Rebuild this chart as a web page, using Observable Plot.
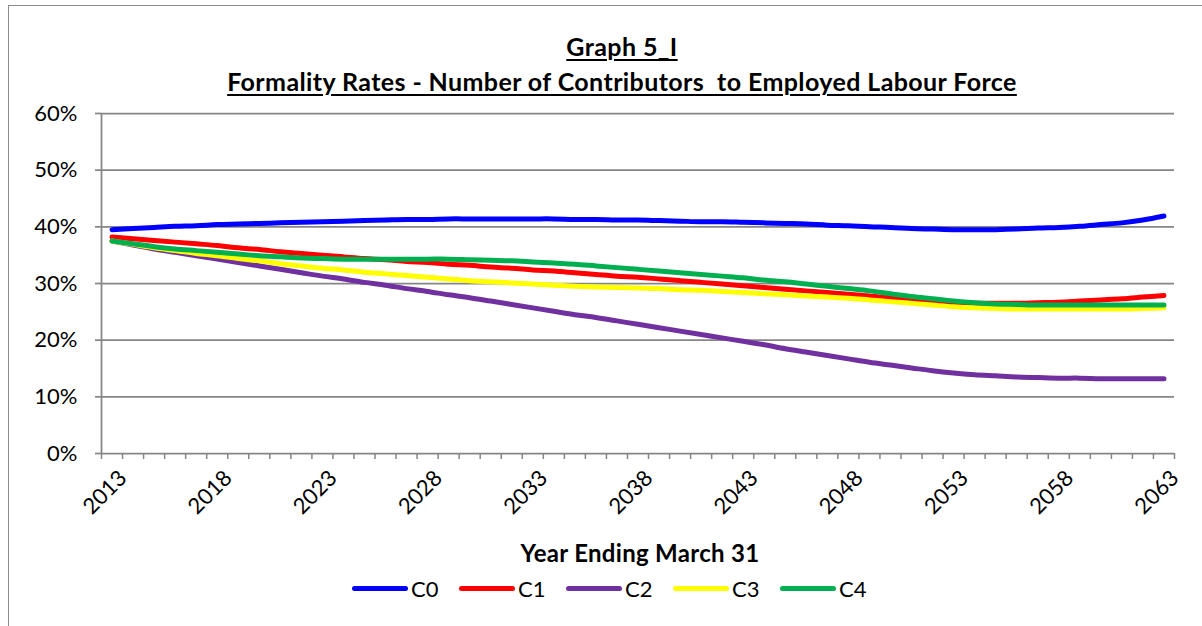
<!DOCTYPE html>
<html>
<head>
<meta charset="utf-8">
<script src="https://cdn.jsdelivr.net/npm/d3@7"></script>
<script src="https://cdn.jsdelivr.net/npm/@observablehq/plot@0.6"></script>
<style>
  body { margin: 0; background: #fff; }
  #chart { position: relative; width: 1202px; height: 626px; overflow: hidden; background: #fff;
           font-family: Lato, "Open Sans", sans-serif; color: #000; }
  #frame { position: absolute; left: 8px; top: 5px; width: 1400px; height: 800px;
           border-left: 1.5px solid #8c8c8c; border-top: 1.5px solid #8c8c8c; }
  .title { position: absolute; left: 0; width: 1244px; text-align: center; font-weight: bold;
           font-size: 25px; letter-spacing: 0.4px; line-height: 30px; text-decoration: underline;
           text-decoration-thickness: 2px; text-underline-offset: 3px; white-space: pre; }
  #plot { position: absolute; left: 0; top: 0; }
  #xtitle { position: absolute; left: 0; width: 1280px; top: 538px; line-height: 30px; text-align: center;
            font-weight: bold; font-size: 24px; letter-spacing: 0.3px; }
  #legend { position: absolute; left: 0; top: 576px; height: 24px; width: 1202px; }
  .item { position: absolute; top: 0; height: 24px; display: flex; align-items: center; font-size: 22px; }
  .swatch { width: 56px; height: 5px; border-radius: 3px; margin-right: 3px; }
</style>
</head>
<body>
<div id="chart">
  <div id="frame"></div>
  <div class="title" style="top:31px">Graph 5_I</div>
  <div class="title" style="top:66px">Formality Rates - Number of Contributors  to Employed Labour Force</div>
  <div id="plot"></div>
  <div id="xtitle">Year Ending March 31</div>
  <div id="legend"></div>
</div>
<script>
// Fiscal years (year ending March 31)
const years = d3.range(2013, 2064);
const labelYears = [2013, 2018, 2023, 2028, 2033, 2038, 2043, 2048, 2053, 2058, 2063];
const yTicks = [0, 10, 20, 30, 40, 50, 60];

const seriesNames = ["C0", "C1", "C2", "C3", "C4"];
const seriesColors = ["#0000ff", "#ff0000", "#7030a0", "#ffff00", "#00b050"];

// Formality rate (%) per scenario, 2013–2063
const c0 = [39.5, 39.7, 39.9, 40.1, 40.2, 40.4, 40.5, 40.6, 40.7, 40.8,
            40.9, 41.0, 41.1, 41.2, 41.3, 41.3, 41.4, 41.4, 41.4, 41.4,
            41.4, 41.4, 41.3, 41.3, 41.2, 41.2, 41.1, 41.0, 40.9, 40.9,
            40.8, 40.7, 40.6, 40.5, 40.3, 40.2, 40.0, 39.9, 39.7, 39.6,
            39.5, 39.5, 39.5, 39.6, 39.8, 39.9, 40.1, 40.4, 40.7, 41.2,
            41.9];
const c1 = [38.2, 37.9, 37.6, 37.3, 37.0, 36.7, 36.3, 36.0, 35.6, 35.3,
            35.0, 34.7, 34.4, 34.2, 33.9, 33.7, 33.4, 33.2, 32.9, 32.7,
            32.4, 32.2, 31.9, 31.6, 31.3, 31.1, 30.8, 30.5, 30.2, 29.9,
            29.6, 29.3, 29.0, 28.7, 28.4, 28.1, 27.8, 27.5, 27.2, 26.9,
            26.6, 26.5, 26.5, 26.5, 26.6, 26.7, 26.9, 27.1, 27.3, 27.6,
            27.9];
const c2 = [37.5, 36.8, 36.1, 35.5, 34.9, 34.3, 33.7, 33.1, 32.5, 31.9,
            31.3, 30.8, 30.2, 29.7, 29.1, 28.6, 28.0, 27.5, 26.9, 26.3,
            25.7, 25.1, 24.5, 24.0, 23.4, 22.8, 22.2, 21.6, 21.0, 20.4,
            19.8, 19.2, 18.5, 17.9, 17.3, 16.7, 16.1, 15.6, 15.1, 14.6,
            14.2, 13.9, 13.7, 13.5, 13.4, 13.3, 13.3, 13.2, 13.2, 13.2,
            13.2];
const c3 = [37.5, 36.9, 36.3, 35.8, 35.3, 34.9, 34.4, 34.0, 33.5, 33.1,
            32.7, 32.4, 32.0, 31.7, 31.4, 31.1, 30.8, 30.5, 30.3, 30.1,
            29.9, 29.7, 29.5, 29.4, 29.3, 29.2, 29.1, 28.9, 28.8, 28.6,
            28.4, 28.2, 28.0, 27.8, 27.6, 27.4, 27.1, 26.8, 26.5, 26.2,
            25.9, 25.7, 25.6, 25.5, 25.5, 25.5, 25.5, 25.5, 25.5, 25.6,
            25.7];
const c4 = [37.5, 37.0, 36.5, 36.1, 35.8, 35.5, 35.2, 34.9, 34.7, 34.5,
            34.4, 34.3, 34.3, 34.3, 34.3, 34.3, 34.3, 34.2, 34.1, 34.0,
            33.8, 33.6, 33.4, 33.1, 32.8, 32.5, 32.2, 31.9, 31.6, 31.3,
            31.0, 30.6, 30.3, 29.9, 29.5, 29.1, 28.7, 28.2, 27.7, 27.3,
            26.9, 26.6, 26.4, 26.3, 26.2, 26.2, 26.2, 26.2, 26.2, 26.2,
            26.2];

const seriesValues = [c0, c1, c2, c3, c4];
const rows = seriesNames.flatMap((name, i) =>
  years.map((year, j) => ({series: name, year, value: seriesValues[i][j]})));

// category boundaries carry the small tick marks on the x axis
const boundaries = years.map(y => y - 0.5).concat([years[years.length - 1] + 0.5]);

const axisGray = "#868686";
const font = "Lato, 'Open Sans', sans-serif";

const chart = Plot.plot({
  width: 1202,
  height: 530,
  marginLeft: 101,
  marginRight: 28,
  marginTop: 113,
  marginBottom: 77,
  style: {fontFamily: font, fontSize: "22px", color: "#000", background: "transparent", overflow: "visible"},
  x: {domain: [years[0] - 0.5, years[years.length - 1] + 0.5]},
  y: {domain: [0, 60]},
  color: {domain: seriesNames, range: seriesColors},
  marks: [
    Plot.gridY(yTicks, {stroke: axisGray, strokeOpacity: 1, strokeWidth: 1.75}),
    Plot.ruleX([years[0] - 0.5], {stroke: axisGray, strokeWidth: 1.75}),
    Plot.axisY(yTicks, {tickFormat: d => d + "%", tickSize: 6, tickPadding: 18, fontSize: 22,
                        stroke: axisGray, strokeWidth: 1.75, label: null, fill: "#000"}),
    Plot.axisX(boundaries, {tickSize: 6, text: null, stroke: axisGray, strokeWidth: 1.5, label: null}),
    Plot.axisX(labelYears, {tickSize: 0, tickPadding: 21, tickRotate: -45, tickFormat: d => String(d),
                            fontSize: 22, label: null, fill: "#000", dx: 11}),
    Plot.line(rows, {x: "year", y: "value", z: "series", stroke: "series", strokeWidth: 5,
                     curve: "catmull-rom", strokeLinecap: "round", strokeLinejoin: "round"})
  ]
});
document.getElementById("plot").appendChild(chart);

// legend with line swatches
const legend = d3.select("#legend");
const legendStart = 352, legendPitch = 107;
seriesNames.forEach((name, i) => {
  const item = legend.append("div").attr("class", "item").style("left", (legendStart + i * legendPitch) + "px");
  item.append("div").attr("class", "swatch").style("background", seriesColors[i]);
  item.append("span").text(name);
});
</script>
</body>
</html>
